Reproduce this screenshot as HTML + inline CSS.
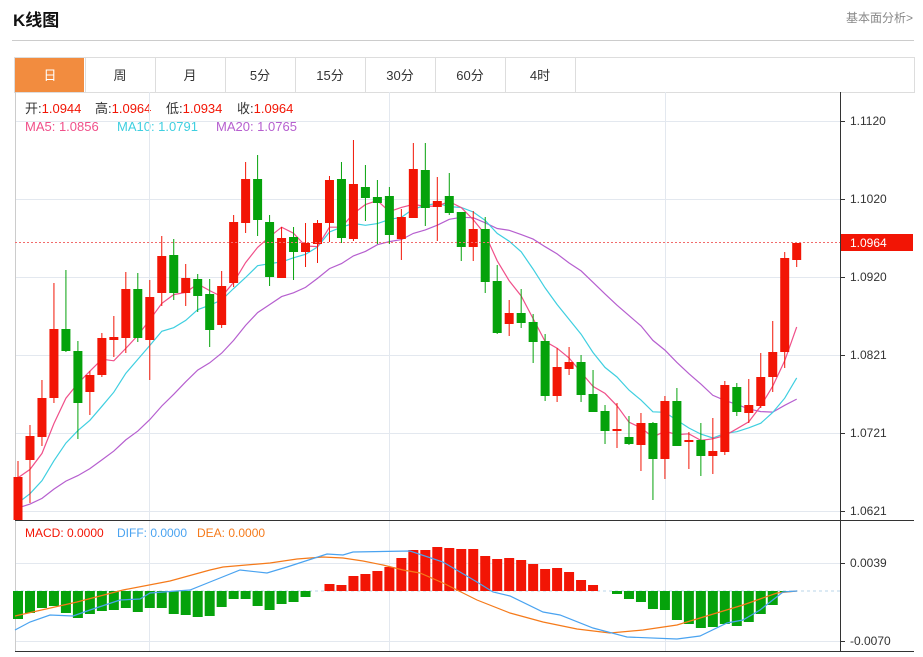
<!DOCTYPE html>
<html><head><meta charset="utf-8"><style>
body{margin:0;background:#fff;width:923px;height:657px;overflow:hidden;font-family:"Liberation Sans","Noto Sans CJK SC",sans-serif;}
svg{position:absolute;left:0;top:0}
</style></head><body>
<svg id="s" width="923" height="657" xmlns="http://www.w3.org/2000/svg" font-family="Liberation Sans, Noto Sans CJK SC, sans-serif">
<text x="13" y="26" font-size="17" font-weight="bold" fill="#111">K线图</text>
<text x="913" y="22" font-size="12" fill="#888" text-anchor="end">基本面分析&gt;</text>
<line x1="12" y1="40.5" x2="914" y2="40.5" stroke="#ccc"/>
<text x="25" y="113" font-size="13" fill="#333">开:<tspan fill="#f21505">1.0944</tspan></text>
<text x="95" y="113" font-size="13" fill="#333">高:<tspan fill="#f21505">1.0964</tspan></text>
<text x="166" y="113" font-size="13" fill="#333">低:<tspan fill="#f21505">1.0934</tspan></text>
<text x="237" y="113" font-size="13" fill="#333">收:<tspan fill="#f21505">1.0964</tspan></text>
<text x="25" y="131" font-size="13" fill="#f0508a">MA5: 1.0856</text>
<text x="117" y="131" font-size="13" fill="#3fcfe0">MA10: 1.0791</text>
<text x="216" y="131" font-size="13" fill="#b65fcf">MA20: 1.0765</text>
<text x="25" y="537" font-size="12" fill="#f21505">MACD: 0.0000</text>
<text x="117" y="537" font-size="12" fill="#4aa3f0">DIFF: 0.0000</text>
<text x="197" y="537" font-size="12" fill="#f57a1a">DEA: 0.0000</text>
</svg>
<script>
var S=document.getElementById('s');var NS='http://www.w3.org/2000/svg';
function el(t,a,txt){var e=document.createElementNS(NS,t);for(var k in a)e.setAttribute(k,a[k]);if(txt!=null)e.textContent=txt;S.appendChild(e);return e;}
var tl=['日','周','月','5分','15分','30分','60分','4时'];
el('rect',{x:14.5,y:57.5,width:900,height:35,fill:'#fff',stroke:'#ddd'});
for(var i=0;i<8;i++){var x=15+i*70;
 if(i==0)el('rect',{x:15,y:58,width:69,height:34,fill:'#f28c3f'});
 el('line',{x1:x+70.5,y1:58,x2:x+70.5,y2:92,stroke:'#ddd'});
 el('text',{x:x+35,y:80,'font-size':13,'text-anchor':'middle',fill:i==0?'#fff':'#333'},tl[i]);}
el('line',{x1:575.5,y1:58,x2:575.5,y2:92,stroke:'#ddd'});
var gc='#e3e8ef';
[121,199,277,355,433,511].forEach(function(y){el('line',{x1:15,y1:y+.5,x2:840,y2:y+.5,stroke:gc});});
[563,641].forEach(function(y){el('line',{x1:15,y1:y+.5,x2:840,y2:y+.5,stroke:gc});});
[149,389,665].forEach(function(x){el('line',{x1:x+.5,y1:92,x2:x+.5,y2:651,stroke:gc});});
el('line',{x1:15.5,y1:92,x2:15.5,y2:651,stroke:'#ccc'});
el('line',{x1:840.5,y1:92,x2:840.5,y2:651,stroke:'#333'});
el('line',{x1:15,y1:520.5,x2:914,y2:520.5,stroke:'#333'});
el('line',{x1:15,y1:651.5,x2:914,y2:651.5,stroke:'#333'});
[['1.1120',121],['1.1020',199],['1.0920',277],['1.0821',355],['1.0721',433],['1.0621',511]].forEach(function(p){
 el('line',{x1:840,y1:p[1]+.5,x2:845,y2:p[1]+.5,stroke:'#333'});
 el('text',{x:850,y:p[1]+4,'font-size':12,fill:'#333'},p[0]);});
[['0.0039',563],['-0.0070',641]].forEach(function(p){
 el('line',{x1:840,y1:p[1]+.5,x2:845,y2:p[1]+.5,stroke:'#333'});
 el('text',{x:850,y:p[1]+4,'font-size':12,fill:'#333'},p[0]);});
var C=[[477,520,461,520,1],[436,460,425,503,1],[398,437,380,446,1],[329,398,283,403,1],[329,351,270,352,0],[351,403,341,439,0],[375,392,371,415,1],[338,375,333,377,1],[337,340,316,357,1],[289,338,272,353,1],[289,338,273,342,0],[297,340,280,380,1],[256,293,236,306,1],[255,293,239,300,0],[278,293,264,306,1],[279,296,274,312,0],[294,330,279,347,0],[286,325,271,328,1],[222,283,215,287,1],[179,223,162,233,1],[179,220,155,236,0],[222,277,215,286,0],[238,278,227,278,1],
[237,252,227,280,0],[243,252,223,267,1],[223,244,220,263,1],[180,223,176,242,1],[179,238,162,243,0],[184,239,140,241,1],[187,198,165,221,0],[197,203,180,244,0],[196,235,187,244,0],[217,239,209,260,1],[169,218,143,218,1],[170,208,143,226,0],[201,207,177,241,1],[196,213,173,215,0],[212,247,212,261,0],[229,247,211,261,1],[229,282,217,293,0],[281,333,265,334,0],[313,324,300,336,1],[313,323,289,328,0],[322,342,314,363,0],[341,396,334,401,0],[367,396,348,402,1],
[362,369,347,375,1],[362,395,355,402,0],[394,412,370,412,0],[411,431,405,444,0],[429,431,403,448,1],[437,444,416,445,0],[423,445,413,471,1],[423,459,422,500,0],[401,459,396,479,1],[401,446,388,446,0],[440,442,432,469,1],[440,456,423,476,0],[451,456,418,474,1],[385,452,381,455,1],[387,412,383,416,0],[405,413,379,423,1],[377,406,353,408,1],[352,377,321,392,1],[258,352,252,368,1],[243,260,243,267,1]];
function X(i){return 18+i*11.98;}
var closes=[];for(var k=0;k<10;k++)closes.push(513);for(k=0;k<5;k++)closes.push(528);for(k=0;k<4;k++)closes.push(478);
C.forEach(function(c){closes.push(c[4]?c[0]:c[1]);});
var off=19;
function ma(n,col){var pts=[];for(var i=0;i<C.length;i++){var s=0;for(var j=0;j<n;j++)s+=closes[off+i-j];pts.push(X(i).toFixed(1)+','+(s/n).toFixed(1));}
 el('polyline',{points:pts.join(' '),fill:'none',stroke:col,'stroke-width':1.2});}
ma(20,'#b65fcf');ma(10,'#3fcfe0');ma(5,'#f0508a');
C.forEach(function(c,i){var x=X(i),col=c[4]?'#f21505':'#05a20b';
 el('line',{x1:x,y1:c[2],x2:x,y2:c[3],stroke:col,'stroke-width':1});
 el('rect',{x:x-4.5,y:c[0],width:9,height:Math.max(1.5,c[1]-c[0]),fill:col});});
el('line',{x1:15,y1:242.5,x2:840,y2:242.5,stroke:'#f26b6b','stroke-dasharray':'2,2'});
el('rect',{x:841,y:234,width:72,height:17,fill:'#f21505'});
el('text',{x:850,y:247,'font-size':12,fill:'#fff'},'1.0964');
var Z=591;
el('line',{x1:15,y1:591,x2:840,y2:591,stroke:'#b9d4ea','stroke-dasharray':'3,3'});
var H=[619,613,608,606,613,618,614,611,610,608,612,608,608,614,615,617,616,607,599,599,606,610,604,602,597,591,584,585,576,574,571,567,558,550,550,547,548,549,549,556,559,558,560,564,569,568,572,580,585,591,594,599,602,609,610,620,624,628,627,624,626,622,614,605,592,591];
H.forEach(function(h,i){if(Math.abs(h-Z)<1)return;var x=X(i);
 el('rect',{x:x-5,y:Math.min(h,Z),width:10,height:Math.abs(h-Z),fill:h<Z?'#f21505':'#05a20b'});});
el('polyline',{points:'15,616 77,602 123,590 170,581 210,570 223,567 270,563 297,559 323,557 343,558 363,561 383,565 403,570 420,573 443,583 477,600 510,613 543,622 577,629 610,633 643,630 677,625 710,615 743,605 777,593 797,591',fill:'none',stroke:'#f57a1a','stroke-width':1.2});
el('polyline',{points:'15,630 30,622 50,615 73,616 90,610 120,600 140,599 150,593 190,590 210,582 240,570 267,573 287,567 327,554 343,555 353,552 410,551 443,562 477,582 493,592 510,596 543,612 560,615 593,628 627,637 677,639 700,636 727,623 743,620 760,610 783,592 797,591',fill:'none',stroke:'#4aa3f0','stroke-width':1.2});
</script>
</body></html>
